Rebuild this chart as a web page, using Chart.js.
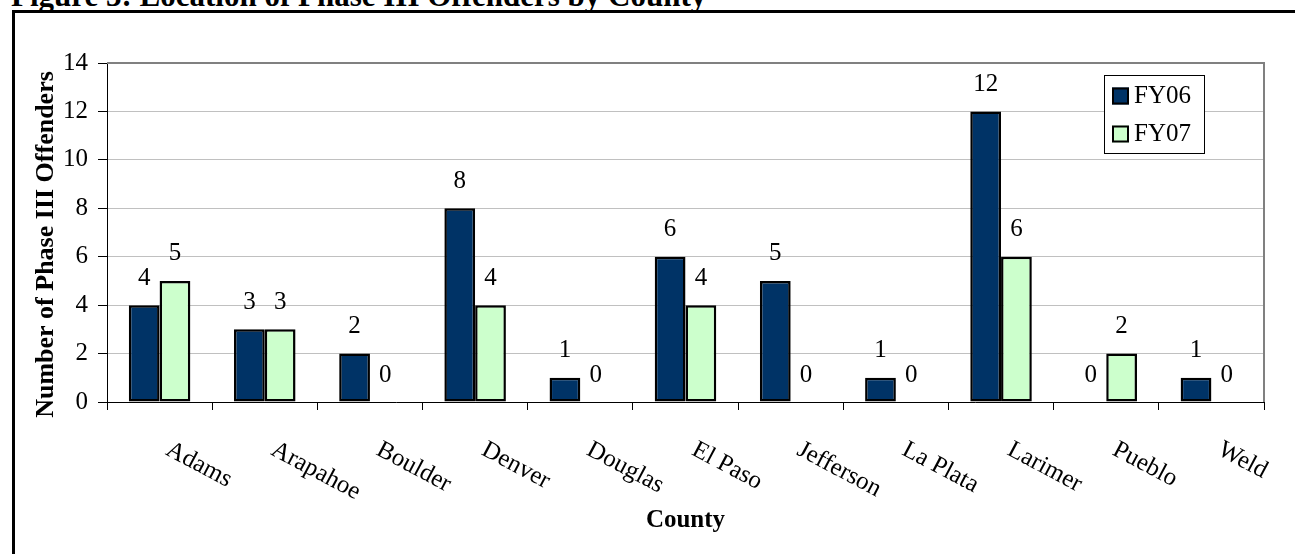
<!DOCTYPE html>
<html>
<head>
<meta charset="utf-8">
<title>Figure 3: Location of Phase III Offenders by County</title>
<script src="https://cdn.jsdelivr.net/npm/chart.js@4.4.1/dist/chart.umd.min.js"></script>
<style>
  body { margin: 0; background: #fff; }
  #wrap { position: relative; width: 1295px; height: 554px; overflow: hidden; }
  #fig-title {
    position: absolute; left: 11px; top: -20px;
    font: bold 31px/31px "Liberation Serif", "Times New Roman", serif;
    white-space: nowrap; color: #000;
  }
  #frame {
    position: absolute; left: 12px; top: 10px; width: 1320px; height: 600px;
    border: 3px solid #000;
  }
  #chart { position: absolute; left: 0; top: 0; }
</style>
</head>
<body>
<div id="wrap">
  <div id="fig-title">Figure 3: Location of Phase III Offenders by County</div>
  <div id="frame"></div>
  <canvas id="chart" width="1295" height="554"></canvas>
</div>
<script>
const counties = ['Adams', 'Arapahoe', 'Boulder', 'Denver', 'Douglas', 'El Paso',
  'Jefferson', 'La Plata', 'Larimer', 'Pueblo', 'Weld']
const fy06 = [4, 3, 2, 8, 1, 6, 5, 1, 12, 0, 1]
const fy07 = [5, 3, 0, 4, 0, 4, 0, 0, 6, 2, 0]
const yMin = 0
const yMax = 14
const yStep = 2
const yTitle = 'Number of Phase III Offenders'

const serif = '"Liberation Serif", "Times New Roman", serif'
Chart.defaults.font.family = serif
Chart.defaults.font.size = 25
Chart.defaults.color = '#000'

// value labels above each bar
const barLabels = {
  id: 'barLabels',
  afterDatasetsDraw(chart) {
    const ctx = chart.ctx
    ctx.save()
    ctx.font = '25px ' + serif
    ctx.fillStyle = '#000'
    ctx.textAlign = 'center'
    ctx.textBaseline = 'middle'
    chart.data.datasets.forEach((ds, di) => {
      chart.getDatasetMeta(di).data.forEach((bar, i) => {
        ctx.fillText(String(ds.data[i]), bar.x, bar.y - 27)
      })
    })
    ctx.restore()
  }
}

// slanted category labels, y title, plot frame and boxed legend
const extras = {
  id: 'extras',
  afterDraw(chart) {
    const ctx = chart.ctx
    const area = chart.chartArea
    const x = chart.scales.x

    ctx.save()
    ctx.strokeStyle = '#808080'
    ctx.lineWidth = 2
    ctx.beginPath()
    ctx.moveTo(area.left, area.top)
    ctx.lineTo(area.right, area.top)
    ctx.lineTo(area.right, area.bottom)
    ctx.stroke()
    ctx.restore()

    ctx.save()
    ctx.font = '25px ' + serif
    ctx.fillStyle = '#000'
    ctx.textAlign = 'left'
    ctx.textBaseline = 'alphabetic'
    chart.data.labels.forEach((lab, i) => {
      ctx.save()
      ctx.translate(x.getPixelForValue(i) + 5, x.top + 52)
      ctx.rotate(28 * Math.PI / 180)
      ctx.fillText(lab, 0, 0)
      ctx.restore()
    })
    ctx.restore()

    ctx.save()
    ctx.font = 'bold 26px ' + serif
    ctx.fillStyle = '#000'
    ctx.textAlign = 'center'
    ctx.textBaseline = 'middle'
    ctx.translate(46, (area.top + area.bottom) / 2 + 12)
    ctx.rotate(-Math.PI / 2)
    ctx.fillText(yTitle, 0, 0)
    ctx.restore()

    const bx = area.right - 160
    const by = area.top + 12
    ctx.save()
    ctx.fillStyle = '#fff'
    ctx.fillRect(bx, by, 100, 78)
    ctx.strokeStyle = '#000'
    ctx.lineWidth = 1
    ctx.strokeRect(bx + 0.5, by + 0.5, 100, 78)
    ctx.font = '25px ' + serif
    ctx.textBaseline = 'middle'
    chart.data.datasets.forEach((ds, di) => {
      const cy = by + 20.5 + di * 38
      ctx.fillStyle = ds.backgroundColor
      ctx.fillRect(bx + 8, cy - 8, 17, 17)
      ctx.strokeStyle = '#000'
      ctx.lineWidth = 2
      ctx.strokeRect(bx + 9, cy - 7, 15, 15)
      ctx.fillStyle = '#000'
      ctx.fillText(ds.label, bx + 30, cy + 1)
    })
    ctx.restore()
  }
}

const barConfig = {
  type: 'bar',
  data: {
    labels: counties,
    datasets: [
      {
        label: 'FY06',
        data: fy06,
        backgroundColor: '#003366',
        borderColor: '#000',
        borderWidth: 2.5,
        borderSkipped: false,
      },
      {
        label: 'FY07',
        data: fy07,
        backgroundColor: '#ccffcc',
        borderColor: '#000',
        borderWidth: 2.5,
        borderSkipped: false,
      },
    ],
  },
  options: {
    responsive: false,
    animation: false,
    devicePixelRatio: 1,
    layout: { padding: { top: 63, right: 31, left: 0, bottom: 0 } },
    datasets: { bar: { categoryPercentage: 0.585, barPercentage: 1 } },
    plugins: {
      legend: { display: false },
      tooltip: { enabled: false },
    },
    scales: {
      x: {
        ticks: { display: false },
        grid: {
          offset: true,
          drawOnChartArea: false,
          drawTicks: true,
          tickLength: 8,
          tickColor: '#000',
        },
        border: { color: '#000', width: 1 },
        title: {
          display: true,
          text: 'County',
          font: { size: 25, weight: 'bold' },
          padding: { top: 0, bottom: 18 },
        },
        afterFit(scale) { scale.height = 152 },
      },
      y: {
        min: yMin,
        max: yMax,
        ticks: { stepSize: yStep, padding: 10, font: { size: 25 } },
        grid: { color: '#c0c0c0', tickColor: '#000', tickLength: 9 },
        border: { color: '#000', width: 1 },
        afterFit(scale) { scale.width = 107 },
      },
    },
  },
  plugins: [barLabels, extras],
}

const barCtx = document.getElementById('chart')
window.myBar = new Chart(barCtx, barConfig)
</script>
</body>
</html>
